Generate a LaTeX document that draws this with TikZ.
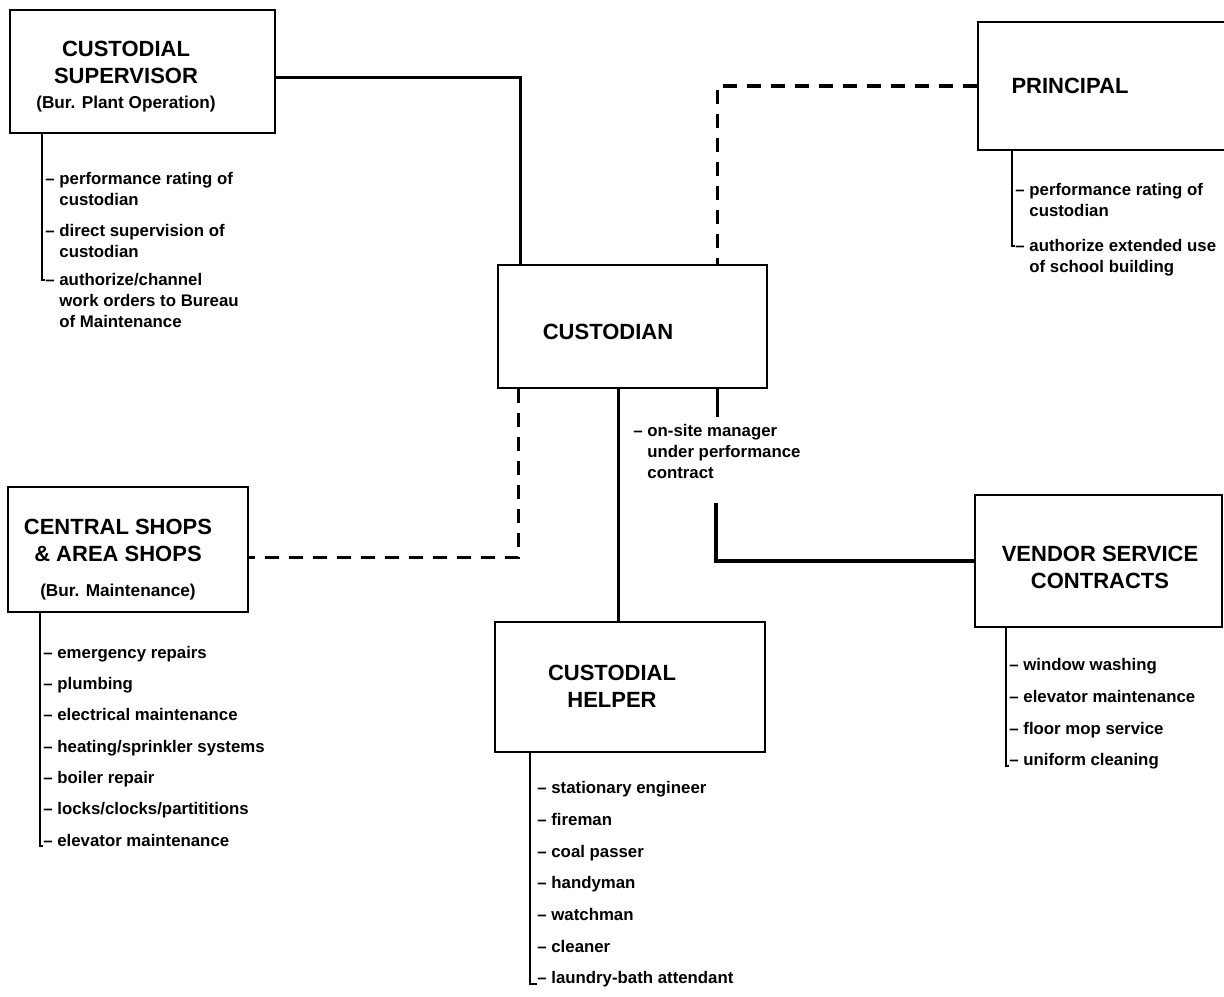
\documentclass[tikz,border=0pt]{standalone}
\usepackage{fontspec}
\setmainfont{Liberation Sans}
\newcommand{\bursize}{\bfseries\fontsize{8.6}{11}\selectfont}
\newcommand{\hang}{\hphantom{\textendash\ }}

\begin{document}
\begin{tikzpicture}[x=0.5pt, y=-0.5pt,
    box/.style={draw, line width=1.2pt, inner sep=0pt},
    title/.style={align=center, font=\bfseries\fontsize{11}{13.5}\selectfont},
    item/.style={anchor=base west, align=left, inner sep=0pt,
                 font=\bfseries\fontsize{8.4}{10.5}\selectfont},
    link/.style={line width=1.6pt},
    dashlink/.style={line width=1.6pt, dash pattern=on 7pt off 5pt},
    stem/.style={line width=1.2pt}]
    \useasboundingbox (0,0) rectangle (1224,996);

    % the six offices
    \node[box, minimum width=132.5pt, minimum height=61.5pt] (sup) at (142.5,71.5) {};
    \node[box, minimum width=134.5pt, minimum height=61.5pt] (cust) at (632.5,326.5) {};
    \node[box, minimum width=131pt, minimum height=64pt] (prin) at (1109,86) {};
    \node[box, minimum width=120pt, minimum height=62.5pt] (shops) at (128,549.5) {};
    \node[box, minimum width=135pt, minimum height=65pt] (help) at (630,687) {};
    \node[box, minimum width=123.5pt, minimum height=66pt] (vend) at (1098.5,561) {};

    \node[title] (supT) at (126,77) {CUSTODIAL\\SUPERVISOR\\[-1pt]{\bursize (Bur. Plant Operation)}};
    \node[title] (custT) at (608,332) {CUSTODIAN};
    \node[title] (prinT) at (1070,86) {PRINCIPAL};
    \node[title] (shopsT) at (118,560) {CENTRAL SHOPS\\\& AREA SHOPS\\[4pt]{\bursize (Bur. Maintenance)}};
    \node[title] (helpT) at (612,686) {CUSTODIAL\\HELPER};
    \node[title] (vendT) at (1100,567) {VENDOR SERVICE\\CONTRACTS};

    % lines of authority
    \draw[link] ([yshift=-3pt]sup.east) -| ([xshift=12pt]cust.north west);
    \draw[dashlink] (prin.west) -| ([xshift=-25.5pt]cust.north east);
    \draw[dashlink] ([xshift=11pt]cust.south west) |- ([yshift=-4pt]shops.east);
    \coordinate (hlp) at ([xshift=-7pt]cust.south);
    \draw[link] (hlp) -- (hlp |- help.north);
    \draw[link] ([xshift=-25.5pt]cust.south east) -- ++(0,-14pt);
    \node[item] (mgr) at (633,478.5) {\textendash\ on-site manager\\\hang under performance\\\hang contract};
    \coordinate (mgrlow) at (716,503);
    \draw[link] (mgrlow) |- (vend.west);

    % duties
    \node[item] (supd1) at (45,205.5) {\textendash\ performance rating of\\\hang custodian};
    \node[item] (supd2) at (45,257) {\textendash\ direct supervision of\\\hang custodian};
    \node[item] (supd3) at (45,327) {\textendash\ authorize/channel\\\hang work orders to Bureau\\\hang of Maintenance};
    \draw[stem] ([xshift=16.5pt]sup.south west) |- ([yshift=-3.75pt]supd3.north west);

    \node[item] (prind1) at (1015,216) {\textendash\ performance rating of\\\hang custodian};
    \node[item] (prind2) at (1015,272) {\textendash\ authorize extended use\\\hang of school building};
    \draw[stem] ([xshift=17.5pt]prin.south west) |- ([yshift=-3.75pt]prind2.north west);

    \foreach \t [count=\i] in {emergency repairs, plumbing, electrical maintenance,
        heating/sprinkler systems, boiler repair, locks/clocks/partititions, elevator maintenance}
        \node[item] (shopd\i) at (43,{627+31.3*\i}) {\textendash\ \t};
    \draw[stem] ([xshift=16.5pt]shops.south west) |- (shopd7.base west);

    \foreach \t [count=\i] in {stationary engineer, fireman, coal passer, handyman,
        watchman, cleaner, laundry-bath attendant}
        \node[item] (helpd\i) at (537,{762+31.7*\i}) {\textendash\ \t};
    \draw[stem] ([xshift=18pt]help.south west) |- (helpd7.base west);

    \foreach \t [count=\i] in {window washing, elevator maintenance, floor mop service, uniform cleaning}
        \node[item] (vendd\i) at (1009,{639+31.7*\i}) {\textendash\ \t};
    \draw[stem] ([xshift=16pt]vend.south west) |- (vendd4.base west);

\end{tikzpicture}
\end{document}
